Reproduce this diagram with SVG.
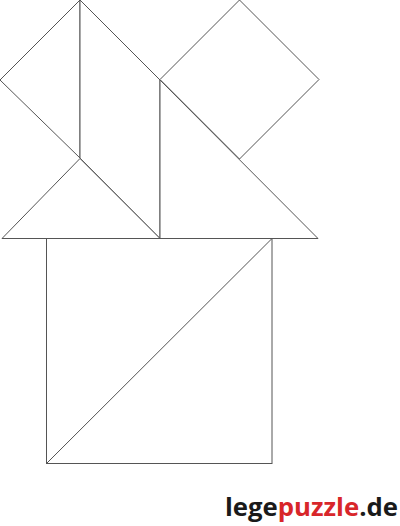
<svg xmlns="http://www.w3.org/2000/svg" width="400" height="526" viewBox="0 0 400 526">
<style>
.p{fill:#fff;stroke:#555;stroke-width:1;stroke-linejoin:miter}
.t{font-family:"Open Sans",sans-serif;font-size:25px;font-weight:700}
</style>
<rect width="400" height="526" fill="#fff"/>
<g id="left-triangle"><polygon class="p" points="80,0 0,80 80,158"/></g>
<g id="parallelogram"><polygon class="p" points="80,0 160,80 160,238.5 80,158"/></g>
<g id="square-top"><polygon class="p" points="239.5,0 319,79.5 239.5,159 160,79.5"/></g>
<g id="big-triangle"><polygon class="p" points="160,80 160,238.5 318,238.5"/></g>
<g id="medium-triangle"><polygon class="p" points="80,158.5 2,238.5 160,238.5"/></g>
<g id="square-bottom"><rect class="p" x="46.5" y="238.5" width="225.5" height="225"/></g>
<g id="diagonal"><line x1="46.5" y1="463.5" x2="272" y2="238.5" stroke="#555" stroke-width="1"/></g>
<text class="t" x="225" y="516" textLength="173" lengthAdjust="spacingAndGlyphs"><tspan fill="#1a1a1a">lege</tspan><tspan fill="#d8262a">puzzle</tspan><tspan fill="#1a1a1a">.de</tspan></text>
</svg>
